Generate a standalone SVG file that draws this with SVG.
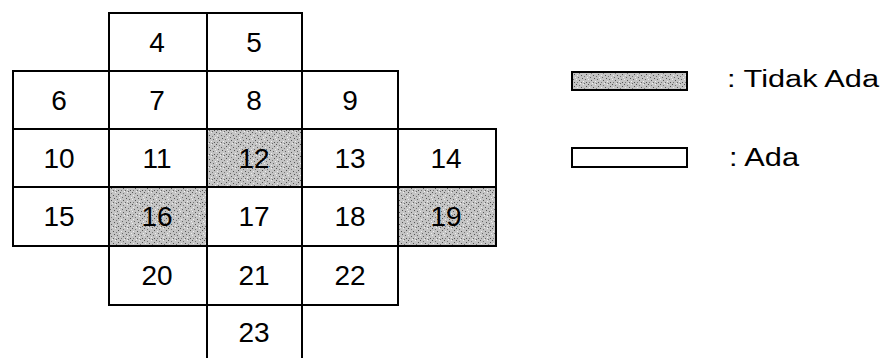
<svg xmlns="http://www.w3.org/2000/svg" width="885" height="358" viewBox="0 0 885 358">
  <style>
    .cell { fill: #ffffff; stroke: #000000; stroke-width: 2; }
    .shade { fill: url(#stipple); stroke: #000000; stroke-width: 2; }
    .num { font-family: "Liberation Sans", Arial, sans-serif; font-size: 28px; fill: #000000; text-anchor: middle; }
    .leg { font-family: "Liberation Sans", Arial, sans-serif; fill: #000000; }
  </style>
  <defs>
    <pattern id="stipple" patternUnits="userSpaceOnUse" width="12" height="12">
      <rect width="12" height="12" fill="#c4c4c4"/>
      <rect x="0" y="0" width="1" height="1" fill="#555"/>
      <rect x="3" y="1" width="1" height="1" fill="#777"/>
      <rect x="7" y="0" width="1" height="1" fill="#eee"/>
      <rect x="10" y="2" width="1" height="1" fill="#555"/>
      <rect x="1" y="3" width="1" height="1" fill="#eee"/>
      <rect x="5" y="3" width="1" height="1" fill="#555"/>
      <rect x="8" y="4" width="1" height="1" fill="#777"/>
      <rect x="2" y="5" width="1" height="1" fill="#666"/>
      <rect x="11" y="5" width="1" height="1" fill="#eee"/>
      <rect x="6" y="6" width="1" height="1" fill="#555"/>
      <rect x="0" y="7" width="1" height="1" fill="#eee"/>
      <rect x="9" y="7" width="1" height="1" fill="#666"/>
      <rect x="3" y="8" width="1" height="1" fill="#555"/>
      <rect x="7" y="9" width="1" height="1" fill="#eee"/>
      <rect x="1" y="10" width="1" height="1" fill="#777"/>
      <rect x="5" y="10" width="1" height="1" fill="#666"/>
      <rect x="10" y="10" width="1" height="1" fill="#555"/>
      <rect x="4" y="11" width="1" height="1" fill="#eee"/>
      <rect x="8" y="11" width="1" height="1" fill="#666"/>
    </pattern>
  </defs>

  <g id="c4"><rect class="cell" x="109" y="13" width="98" height="58"/><text class="num" x="157" y="52">4</text></g>
  <g id="c5"><rect class="cell" x="207" y="13" width="95" height="58"/><text class="num" x="254" y="52">5</text></g>

  <g id="c6"><rect class="cell" x="13" y="71" width="96" height="58"/><text class="num" x="59" y="110">6</text></g>
  <g id="c7"><rect class="cell" x="109" y="71" width="98" height="58"/><text class="num" x="157" y="110">7</text></g>
  <g id="c8"><rect class="cell" x="207" y="71" width="95" height="58"/><text class="num" x="254" y="110">8</text></g>
  <g id="c9"><rect class="cell" x="302" y="71" width="96" height="58"/><text class="num" x="350" y="110">9</text></g>

  <g id="c10"><rect class="cell" x="13" y="129" width="96" height="58"/><text class="num" x="59" y="168">10</text></g>
  <g id="c11"><rect class="cell" x="109" y="129" width="98" height="58"/><text class="num" x="157" y="168">11</text></g>
  <g id="c12"><rect class="shade" x="207" y="129" width="95" height="58"/><text class="num" x="254" y="168">12</text></g>
  <g id="c13"><rect class="cell" x="302" y="129" width="96" height="58"/><text class="num" x="350" y="168">13</text></g>
  <g id="c14"><rect class="cell" x="398" y="129" width="98" height="58"/><text class="num" x="446" y="168">14</text></g>

  <g id="c15"><rect class="cell" x="13" y="187" width="96" height="59"/><text class="num" x="59" y="226">15</text></g>
  <g id="c16"><rect class="shade" x="109" y="187" width="98" height="59"/><text class="num" x="157" y="226">16</text></g>
  <g id="c17"><rect class="cell" x="207" y="187" width="95" height="59"/><text class="num" x="254" y="226">17</text></g>
  <g id="c18"><rect class="cell" x="302" y="187" width="96" height="59"/><text class="num" x="350" y="226">18</text></g>
  <g id="c19"><rect class="shade" x="398" y="187" width="98" height="59"/><text class="num" x="446" y="226">19</text></g>

  <g id="c20"><rect class="cell" x="109" y="246" width="98" height="59"/><text class="num" x="157" y="285">20</text></g>
  <g id="c21"><rect class="cell" x="207" y="246" width="95" height="59"/><text class="num" x="254" y="285">21</text></g>
  <g id="c22"><rect class="cell" x="302" y="246" width="96" height="59"/><text class="num" x="350" y="285">22</text></g>

  <g id="c23"><path class="cell" d="M207,360 V305 H302 V360"/><text class="num" x="254" y="342">23</text></g>

  <g id="legend-tidak-ada">
    <rect class="shade" x="572" y="72" width="115" height="18"/>
    <text class="leg" x="727" y="87" font-size="23" textLength="152" lengthAdjust="spacingAndGlyphs">: Tidak Ada</text>
  </g>
  <g id="legend-ada">
    <rect class="cell" x="572" y="148" width="115" height="19"/>
    <text class="leg" x="729" y="166" font-size="25" textLength="70" lengthAdjust="spacingAndGlyphs">: Ada</text>
  </g>
  <g id="connectors"/>
</svg>
